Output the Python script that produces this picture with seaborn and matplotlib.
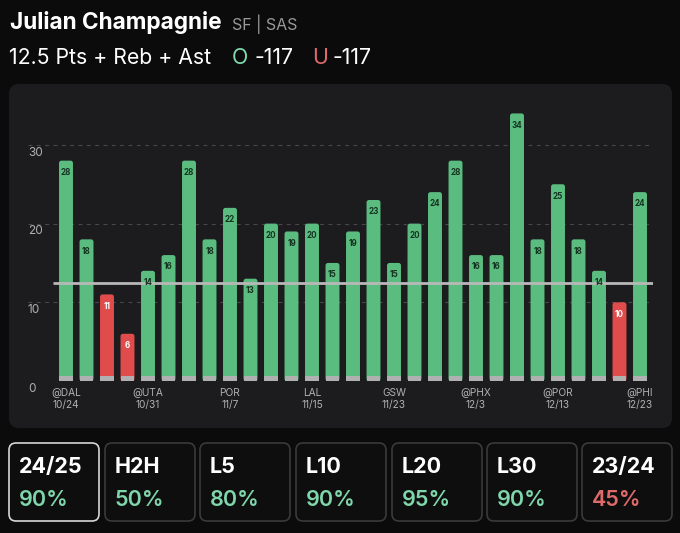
import numpy as np
import pandas as pd
import matplotlib.pyplot as plt
import seaborn as sns
from matplotlib.patches import FancyBboxPatch

# --- data ---
values = [28, 18, 11, 6, 14, 16, 28, 18, 22, 13, 20, 19, 20, 15, 19,
          23, 15, 20, 24, 28, 16, 16, 34, 18, 25, 18, 14, 10, 24]
prop_line = 12.5
tick_idx = [0, 4, 8, 12, 16, 20, 24, 28]
tick_labels = ['@DAL\n10/24', '@UTA\n10/31', 'POR\n11/7', 'LAL\n11/15',
               'GSW\n11/23', '@PHX\n12/3', '@POR\n12/13', '@PHI\n12/23']
y_ticks = [0, 10, 20, 30]
split_names = ['24/25', 'H2H', 'L5', 'L10', 'L20', 'L30', '23/24']
split_pcts = [90, 50, 80, 90, 95, 90, 45]

# colori
BG = '#0b0b0c'
PANEL = '#1c1c1e'
GREEN = '#5bbc80'
RED = '#e04b4b'
MINT = '#7fd6ab'
SALMON = '#e06a6a'

W, H = 680, 533
sns.set_theme(style='dark')
plt.rcParams['font.family'] = ['Inter', 'DejaVu Sans']

fig = plt.figure(figsize=(W / 100, H / 100), dpi=100, facecolor=BG)


def rbox(x, y, w, h, r, fc, ec='none', lw=1.0):
    # box in pixel coordinates, y from the top
    p = FancyBboxPatch((x / W, 1 - (y + h) / H), w / W, h / H,
                       boxstyle=f'round,pad=0,rounding_size={r / W}',
                       mutation_aspect=W / H, transform=fig.transFigure,
                       facecolor=fc, edgecolor=ec, linewidth=lw, zorder=-1)
    fig.patches.append(p)


def ftext(x, y, s, **kw):
    fig.text(x / W, 1 - y / H, s, va='center', ha='left', **kw)


# --- header ---
ftext(10, 23, 'Julian Champagnie', fontsize=16.3, fontweight='bold', color='white')
ftext(232, 24, 'SF | SAS', fontsize=11.5, color='#9a9a9a')
ftext(9, 58, '12.5 Pts + Reb + Ast', fontsize=15.3, color='white')
ftext(232, 58, 'O', fontsize=15.3, color=MINT)
ftext(254, 58, '-117', fontsize=15.3, color='white')
ftext(312, 58, 'U', fontsize=15.3, color=SALMON)
ftext(332, 58, '-117', fontsize=15.3, color='white')

# --- chart panel ---
rbox(9, 84, 663, 344, 10, PANEL)

df = pd.DataFrame({'game': np.arange(len(values)), 'pts': values})
df['result'] = np.where(df['pts'] > prop_line, 'over', 'under')

px_per_unit = 7.87
ax_left, ax_right, ax_bottom = 28, 653, 381
ymax = 36
ax = fig.add_axes([ax_left / W, (H - ax_bottom) / H,
                   (ax_right - ax_left) / W, ymax * px_per_unit / H])
ax.set_facecolor('none')

sns.barplot(data=df, x='game', y='pts', hue='result',
            palette={'over': GREEN, 'under': RED}, dodge=False,
            width=0.68, legend=False, ax=ax, saturation=1)

# angoli arrotondati sulle barre
aspect = 20.5 / px_per_unit
for p in list(ax.patches):
    x0, y0 = p.get_x(), p.get_y()
    w, h = p.get_width(), p.get_height()
    if h <= 0:
        continue
    fc = p.get_facecolor()
    p.set_visible(False)
    ax.add_patch(FancyBboxPatch((x0, y0), w, h,
                                boxstyle='round,pad=0,rounding_size=0.12',
                                mutation_aspect=aspect, facecolor=fc,
                                edgecolor='none', linewidth=0, zorder=2))

# striscia grigia alla base
ax.bar(df['game'], [0.65] * len(df), width=0.68, color='#b0b0b0',
       edgecolor='none', linewidth=0, zorder=2.5)

ax.set_xlim((66 - ax_left) / -20.5, (ax_right - 66) / 20.5)
ax.set_ylim(0, ymax)

for v in y_ticks:
    ax.axhline(v, color='#48484a', lw=0.8, linestyle=(0, (3.5, 4)), zorder=1)
    ax.text(0, v - 1.0, str(v), transform=ax.get_yaxis_transform(),
            ha='left', va='center', fontsize=8.5, color='#b0b0b0', clip_on=False)

ax.hlines(prop_line, -0.634, ax.get_xlim()[1], color='#b8b8b8', lw=2, zorder=3)

for i, v in enumerate(values):
    col = '#15331f' if v > prop_line else 'white'
    ax.text(i, v - 1.5, str(v), ha='center', va='center', fontsize=5.8,
            fontweight='bold', color=col, zorder=4)

ax.set_xticks(tick_idx)
ax.set_xticklabels(tick_labels, fontsize=7.3, color='#b0b0b0', linespacing=1.2)
ax.tick_params(axis='x', length=0, pad=5)
ax.set_yticks([])
ax.set_xlabel('')
ax.set_ylabel('')
for s in ax.spines.values():
    s.set_visible(False)

# --- split boxes ---
box_x = [9, 105, 200, 296, 392, 487, 582]
for i, (name, pct) in enumerate(zip(split_names, split_pcts)):
    bx = box_x[i]
    ec = '#d6d6d6' if i == 0 else '#3a3a3c'
    rbox(bx, 443, 90, 78, 7, '#0e0e0f', ec=ec, lw=1.2)
    ftext(bx + 10, 467, name, fontsize=15.5, fontweight='bold', color='white')
    pc = MINT if pct >= 50 else SALMON
    ftext(bx + 10, 500, f'{pct}%', fontsize=15.5, fontweight='semibold', color=pc)

fig.savefig('out.png', dpi=100, facecolor=BG)
